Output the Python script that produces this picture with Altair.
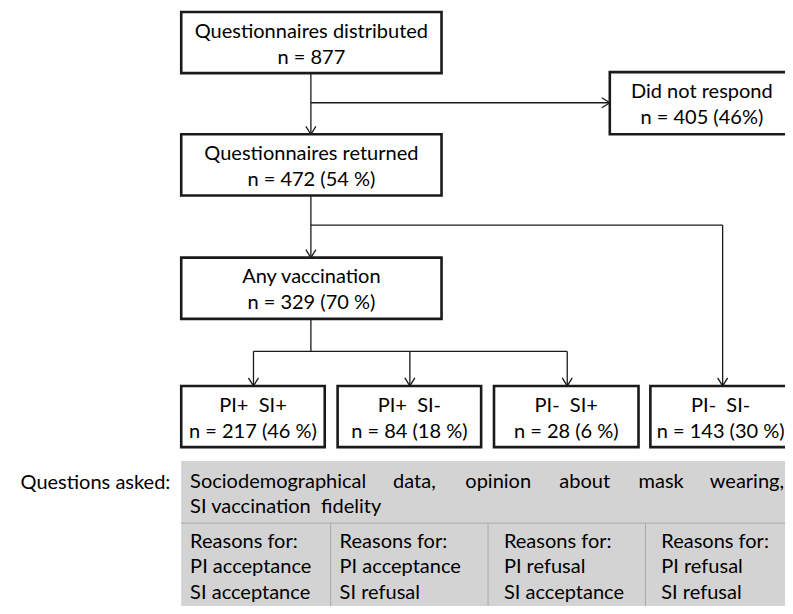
import altair as alt
import pandas as pd

# ---------------- data ----------------
box_line1 = ["Questionnaires distributed", "Did not respond", "Questionnaires returned",
             "Any vaccination", "PI+\u00a0 SI+", "PI+\u00a0 SI-", "PI-\u00a0 SI+", "PI-\u00a0 SI-"]
box_line2 = ["n = 877", "n = 405 (46%)", "n = 472 (54 %)", "n = 329 (70 %)",
             "n = 217 (46 %)", "n = 84 (18 %)", "n = 28 (6 %)", "n = 143 (30 %)"]

# layout of boxes (reference pixel coordinate system, y grows downward)
box_x1 = [183, 616, 183, 183, 183, 341, 499, 657]
box_x2 = [446, 803, 446, 446, 328, 486, 645, 799]
box_y1 = [12, 73, 136, 261, 391, 391, 391, 391]
box_y2 = [74, 136, 198, 323, 453, 453, 453, 453]
box_tx = [314.5, 709, 314.5, 314.5, 255.5, 413.5, 572, 728]

# connector segments
seg_x1 = [314, 314, 314, 314, 730, 314, 256, 256, 414, 573]
seg_y1 = [74, 104, 198, 228, 228, 323, 356, 356, 356, 356]
seg_x2 = [314, 616, 314, 730, 730, 314, 573, 256, 414, 573]
seg_y2 = [136, 104, 261, 228, 391, 356, 356, 391, 391, 391]

# arrow tips
down_x = [314, 314, 256, 414, 573, 730]
down_y = [136, 261, 391, 391, 391, 391]
right_x = [616]
right_y = [104]

# questions panel
side_label = "Questions asked:"
general_words = ["Sociodemographical", "data,", "opinion", "about", "mask", "wearing,"]
general_word_x = [192, 397, 470, 565, 645, 717]
general_line2 = "SI vaccination\u00a0 fidelity"
general_line_y = [494, 520]
reason_cols = [
    ["Reasons for:", "PI acceptance", "SI acceptance"],
    ["Reasons for:", "PI acceptance", "SI refusal"],
    ["Reasons for:", "PI refusal", "SI acceptance"],
    ["Reasons for:", "PI refusal", "SI refusal"],
]
reason_col_x = [192, 343, 509, 668]
reason_line_y = [555, 581, 607]
panel_x = [183, 800]
panel_y = [467, 620]
divider_y = 530
divider_x = [334, 493, 652]

# ---------------- tables ----------------
boxes = pd.DataFrame(dict(x1=box_x1, x2=box_x2, y1=box_y1, y2=box_y2))
box_text = pd.DataFrame(dict(
    x=box_tx * 2,
    y=[(a + b) / 2 - 5 for a, b in zip(box_y1, box_y2)] + [(a + b) / 2 + 21.5 for a, b in zip(box_y1, box_y2)],
    t=box_line1 + box_line2))
segs = pd.DataFrame(dict(x1=seg_x1, y1=seg_y1, x2=seg_x2, y2=seg_y2))
downs = pd.DataFrame(dict(x=down_x, y=down_y))
rights = pd.DataFrame(dict(x=right_x, y=right_y))
panel = pd.DataFrame(dict(x1=[panel_x[0]], x2=[panel_x[1]], y1=[panel_y[0]], y2=[panel_y[1]]))
dividers = pd.DataFrame(dict(
    x1=[panel_x[0]] + divider_x, x2=[panel_x[1]] + divider_x,
    y1=[divider_y] * 4, y2=[divider_y] + [panel_y[1]] * 3))
left_rows = []
for w, wx in zip(general_words, general_word_x):
    left_rows.append(dict(x=wx, y=general_line_y[0], t=w))
left_rows.append(dict(x=192, y=general_line_y[1], t=general_line2))
for col, cx in zip(reason_cols, reason_col_x):
    for t, ly in zip(col, reason_line_y):
        left_rows.append(dict(x=cx, y=ly, t=t))
left_text = pd.DataFrame(left_rows)
side = pd.DataFrame(dict(x=[172], y=[495], t=[side_label]))

# ---------------- chart ----------------
FONT = "Lato"
FS = 20
xs = alt.Scale(domain=[8, 793], nice=False, zero=False)
ys = alt.Scale(domain=[8, 614], nice=False, zero=False, reverse=True)

def X(f):
    return alt.X(f, type="quantitative", scale=xs, axis=None)

def Y(f):
    return alt.Y(f, type="quantitative", scale=ys, axis=None)

panel_l = alt.Chart(panel).mark_rect(fill="#d3d3d3", strokeWidth=0).encode(
    x=X("x1"), x2="x2", y=Y("y1"), y2="y2")
div_l = alt.Chart(dividers).mark_rule(color="#a9a9a9", strokeWidth=1).encode(
    x=X("x1"), x2="x2", y=Y("y1"), y2="y2")
seg_l = alt.Chart(segs).mark_rule(color="#1a1a1a", strokeWidth=1.3).encode(
    x=X("x1"), x2="x2", y=Y("y1"), y2="y2")
down_l = alt.Chart(downs).mark_point(
    shape="M-1,-1.6L0,0L1,-1.6", filled=False, size=100, color="#1a1a1a",
    strokeWidth=1.3, opacity=1).encode(x=X("x"), y=Y("y"))
right_l = alt.Chart(rights).mark_point(
    shape="M-1.6,-1L0,0L-1.6,1", filled=False, size=100, color="#1a1a1a",
    strokeWidth=1.3, opacity=1).encode(x=X("x"), y=Y("y"))
box_l = alt.Chart(boxes).mark_rect(fill="white", stroke="#1a1a1a", strokeWidth=2.6).encode(
    x=X("x1"), x2="x2", y=Y("y1"), y2="y2")
btxt_l = alt.Chart(box_text).mark_text(font=FONT, fontSize=FS, color="black",
                                        align="center", baseline="alphabetic").encode(
    x=X("x"), y=Y("y"), text="t:N")
ltxt_l = alt.Chart(left_text).mark_text(font=FONT, fontSize=FS, color="black",
                                         align="left", baseline="alphabetic").encode(
    x=X("x"), y=Y("y"), text="t:N")
side_l = alt.Chart(side).mark_text(font=FONT, fontSize=FS, color="black",
                                    align="right", baseline="alphabetic").encode(
    x=X("x"), y=Y("y"), text="t:N")

chart = alt.layer(panel_l, div_l, seg_l, down_l, right_l, box_l, btxt_l, ltxt_l, side_l).properties(
    width=777, height=598, padding=0, autosize="none"
).configure_view(stroke=None)

chart.save("out.html", embed_options={"renderer": "svg", "actions": False})
